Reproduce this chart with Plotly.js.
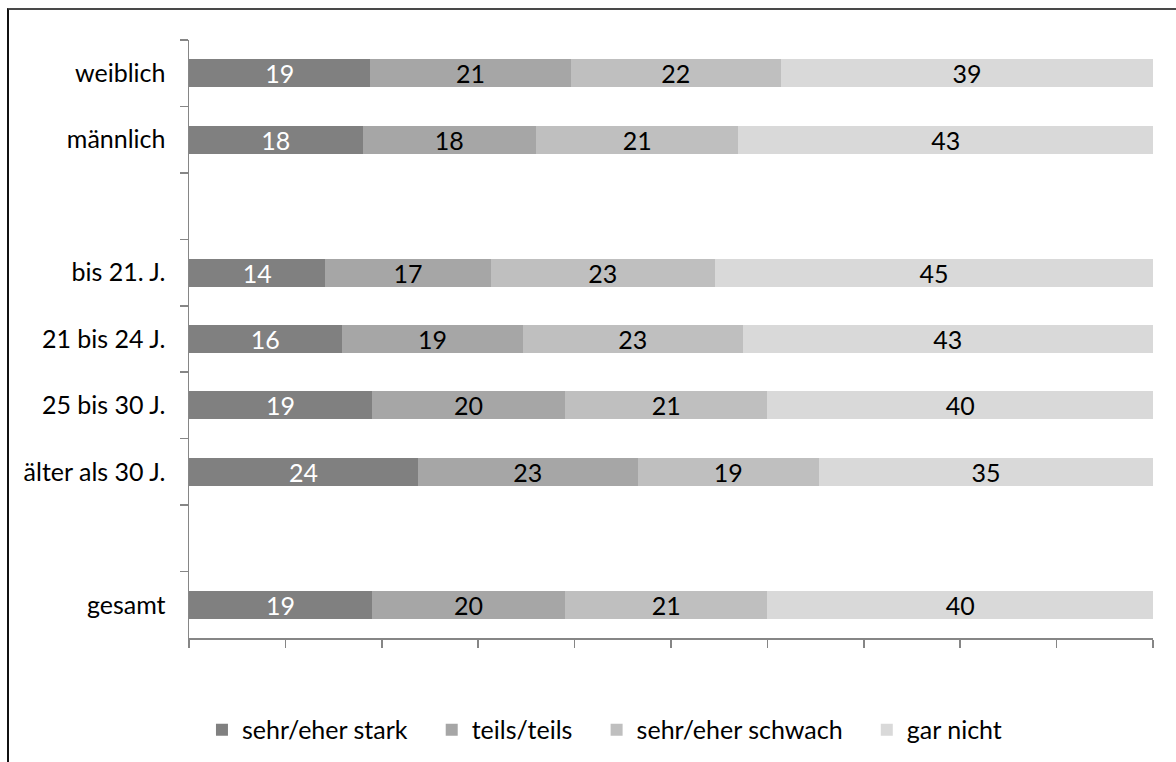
<!DOCTYPE html>
<html>
<head>
<meta charset="utf-8">
<script src="https://cdn.plot.ly/plotly-3.0.1.min.js"></script>
<style>
  html, body { margin: 0; padding: 0; background: #fff; overflow: hidden; }
  #chart { position: absolute; left: 0; top: 0; width: 1176px; height: 762px; }
  #frame { position: absolute; left: 7px; top: 8px; width: 1200px; height: 800px;
           border-top: 2px solid #494949; border-left: 2px solid #111; pointer-events: none; }
</style>
</head>
<body>
<div id="chart"></div>
<div id="frame"></div>
<script>
const categories = ['weiblich', 'männlich', ' ', 'bis 21. J.', '21 bis 24 J.', '25 bis 30 J.', 'älter als 30 J.', '  ', 'gesamt'];
const seriesNames = ['sehr/eher stark', 'teils/teils', 'sehr/eher schwach', 'gar nicht'];
const starkValues   = [19, 18, null, 14, 16, 19, 24, null, 19];
const teilsValues   = [21, 18, null, 17, 19, 20, 23, null, 20];
const schwachValues = [22, 21, null, 23, 23, 21, 19, null, 21];
const garNichtValues = [39, 43, null, 45, 43, 40, 35, null, 40];
const seriesValues = [starkValues, teilsValues, schwachValues, garNichtValues];
const seriesColors = ['#808080', '#a6a6a6', '#bfbfbf', '#d9d9d9'];
const textColors = ['#ffffff', '#000000', '#000000', '#000000'];

const FONT = 'Lato, "Open Sans", sans-serif';
const FS = 25;
const PAD = '\u00a0\u00a0\u00a0';

const traces = seriesNames.map((name, i) => ({
  type: 'bar',
  orientation: 'h',
  name: i < seriesNames.length - 1 ? name + PAD : name,
  y: categories,
  x: seriesValues[i],
  text: seriesValues[i].map(v => v === null ? '' : String(v)),
  textposition: 'inside',
  insidetextanchor: 'middle',
  textangle: 0,
  constraintext: 'none',
  textfont: { family: FONT, size: FS, color: textColors[i] },
  marker: { color: seriesColors[i], line: { width: 0 } },
  hoverinfo: 'skip'
}));

const layout = {
  width: 1176,
  height: 762,
  margin: { l: 189, r: 23, t: 40, b: 124, autoexpand: false },
  paper_bgcolor: '#ffffff',
  plot_bgcolor: '#ffffff',
  barmode: 'stack',
  barnorm: 'percent',
  bargap: 0.58,
  font: { family: FONT, size: FS, color: '#000000' },
  showlegend: true,
  legend: {
    orientation: 'h',
    traceorder: 'normal',
    xref: 'container', yref: 'container',
    x: 0.514, xanchor: 'center',
    y: 0.042, yanchor: 'middle',
    font: { family: FONT, size: FS, color: '#000000' },
    itemclick: false, itemdoubleclick: false
  },
  xaxis: {
    range: [0, 100],
    dtick: 10,
    tick0: 0,
    showticklabels: false,
    ticks: 'outside',
    ticklen: 8,
    tickwidth: 1.5,
    tickcolor: '#868686',
    showline: true,
    linecolor: '#868686',
    linewidth: 1.5,
    showgrid: false,
    zeroline: false,
    fixedrange: true
  },
  yaxis: {
    type: 'category',
    categoryorder: 'array',
    categoryarray: categories,
    autorange: 'reversed',
    tickson: 'boundaries',
    ticks: 'outside',
    ticklen: 8,
    tickwidth: 1.5,
    tickcolor: '#868686',
    showline: true,
    linecolor: '#868686',
    linewidth: 1.5,
    showgrid: false,
    zeroline: false,
    ticklabelstandoff: 17,
    tickfont: { family: FONT, size: FS, color: '#000000' },
    fixedrange: true
  }
};

Plotly.newPlot('chart', traces, layout, { displayModeBar: false, staticPlot: true });
</script>
</body>
</html>
